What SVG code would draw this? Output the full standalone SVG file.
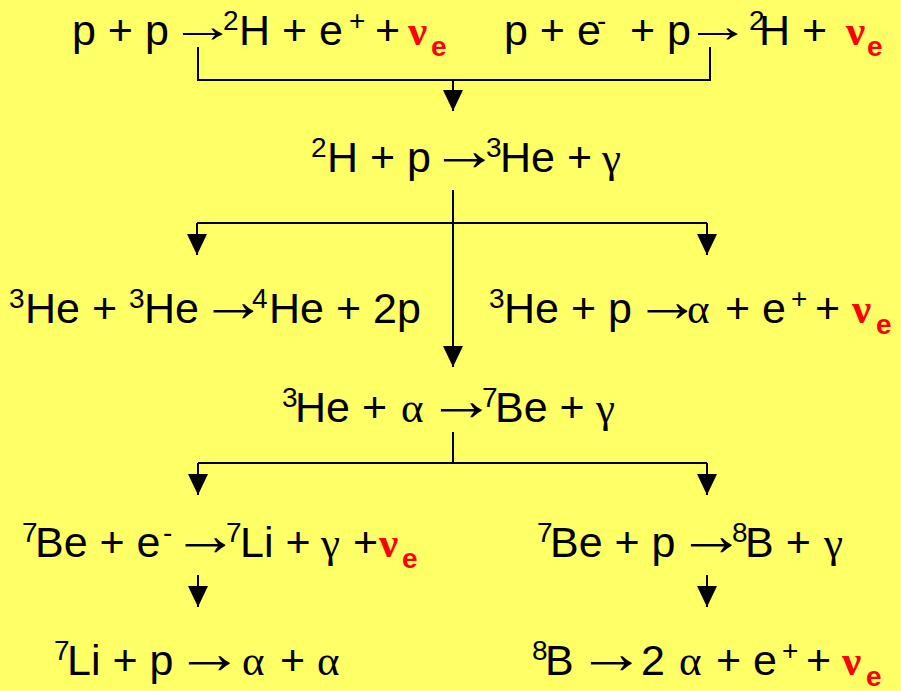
<svg xmlns="http://www.w3.org/2000/svg" width="901" height="691" viewBox="0 0 901 691">
<style>
.t{font-family:"Liberation Sans",Arial,sans-serif;font-size:43px;fill:#000}
.s{font-size:28px}
.g{font-family:"Liberation Serif","Times New Roman",serif}
.ar{font-family:"Liberation Sans",Arial,sans-serif;font-size:60px;fill:#000}
.ar1{font-family:"Liberation Sans",Arial,sans-serif;font-size:47px;fill:#000}
.n{font-family:"Liberation Serif","Times New Roman",serif;font-weight:bold;fill:#f00}
.ne{font-family:"Liberation Sans",Arial,sans-serif;font-size:28px;font-weight:bold;fill:#f00}
.c{fill:none;stroke:#000;stroke-width:2}
</style>
<defs>
<marker id="ah" viewBox="0 0 21 20" refX="21" refY="10" markerWidth="21" markerHeight="20" markerUnits="userSpaceOnUse" orient="auto">
<path d="M0,0 L21,10 L0,20 z" fill="#000"/>
</marker>
</defs>
<rect width="901" height="691" fill="#ffff66"/>
<g id="connectors">
<path class="c" d="M198,47 V80 H710 V47"/>
<path class="c" d="M453,80 V111" marker-end="url(#ah)"/>
<path class="c" d="M453,190 V367" marker-end="url(#ah)"/>
<path class="c" d="M197,223 H707"/>
<path class="c" d="M197,223 V255" marker-end="url(#ah)"/>
<path class="c" d="M707,223 V255" marker-end="url(#ah)"/>
<path class="c" d="M453,432 V463"/>
<path class="c" d="M198,463 H707"/>
<path class="c" d="M198,463 V495" marker-end="url(#ah)"/>
<path class="c" d="M707,463 V495" marker-end="url(#ah)"/>
<path class="c" d="M198,575 V607" marker-end="url(#ah)"/>
<path class="c" d="M707,575 V607" marker-end="url(#ah)"/>
</g>
<g id="pp">
<text class="t"><tspan x="72" y="45">p + p</tspan><tspan class="s" x="223" y="30">2</tspan><tspan x="239" y="45">H + e</tspan><tspan class="s" x="349" y="30">+</tspan><tspan x="375" y="45">+</tspan><tspan class="n" x="408" y="45">ν</tspan><tspan class="ne" x="431" y="56">e</tspan></text>
<text class="ar1" transform="translate(169,42) scale(1.42,1)">→</text>
</g>
<g id="pep">
<text class="t"><tspan x="504" y="45">p + e</tspan><tspan class="s" x="597" y="30">-</tspan><tspan x="630" y="45">+ p</tspan><tspan class="s" x="749" y="30">2</tspan><tspan x="759" y="45">H +</tspan><tspan class="n" x="846" y="45">ν</tspan><tspan class="ne" x="867" y="56">e</tspan></text>
<text class="ar1" transform="translate(684,42) scale(1.42,1)">→</text>
</g>
<g id="h2p">
<text class="t"><tspan class="s" x="311" y="157">2</tspan><tspan x="327" y="172">H + p</tspan><tspan class="s" x="486" y="157">3</tspan><tspan x="500" y="172">He +</tspan><tspan class="g" x="602" y="172">γ</tspan></text>
<text class="ar" transform="translate(430,170) scale(1.15,1)">→</text>
</g>
<g id="he3he3">
<text class="t"><tspan class="s" x="9" y="308">3</tspan><tspan x="25" y="323">He +</tspan><tspan class="s" x="129" y="308">3</tspan><tspan x="144" y="323">He</tspan><tspan class="s" x="252" y="308">4</tspan><tspan x="269" y="323">He + 2p</tspan></text>
<text class="ar" transform="translate(200,321) scale(1.12,1)">→</text>
</g>
<g id="he3p">
<text class="t"><tspan class="s" x="489" y="308">3</tspan><tspan x="504" y="323">He + p</tspan><tspan class="g" x="687" y="323">α</tspan><tspan x="725" y="323">+ e</tspan><tspan class="s" x="791" y="308">+</tspan><tspan x="815" y="323">+</tspan><tspan class="n" x="852" y="323">ν</tspan><tspan class="ne" x="876" y="334">e</tspan></text>
<text class="ar" transform="translate(634,321) scale(1.12,1)">→</text>
</g>
<g id="he3alpha">
<text class="t"><tspan class="s" x="282" y="407">3</tspan><tspan x="295" y="422">He +</tspan><tspan class="g" x="401" y="422">α</tspan><tspan class="s" x="482" y="407">7</tspan><tspan x="495" y="422">Be +</tspan><tspan class="g" x="596" y="422">γ</tspan></text>
<text class="ar" transform="translate(427,420) scale(1.15,1)">→</text>
</g>
<g id="be7e">
<text class="t"><tspan class="s" x="22" y="542">7</tspan><tspan x="35" y="557">Be + e</tspan><tspan class="s" x="163" y="542">-</tspan><tspan class="s" x="226" y="542">7</tspan><tspan x="240" y="557">Li +</tspan><tspan class="g" x="321" y="557">γ</tspan><tspan x="353" y="557">+</tspan><tspan class="n" x="379" y="557">ν</tspan><tspan class="ne" x="402" y="568">e</tspan></text>
<text class="ar" transform="translate(172,555) scale(1.12,1)">→</text>
</g>
<g id="be7p">
<text class="t"><tspan class="s" x="537" y="542">7</tspan><tspan x="550" y="557">Be + p</tspan><tspan class="s" x="732" y="542">8</tspan><tspan x="745" y="557">B +</tspan><tspan class="g" x="824" y="557">γ</tspan></text>
<text class="ar" transform="translate(677,555) scale(1.15,1)">→</text>
</g>
<g id="li7p">
<text class="t"><tspan class="s" x="54" y="660">7</tspan><tspan x="67" y="675">Li + p</tspan><tspan class="g" x="242" y="675">α</tspan><tspan x="280" y="675">+</tspan><tspan class="g" x="317" y="675">α</tspan></text>
<text class="ar" transform="translate(175,673) scale(1.15,1)">→</text>
</g>
<g id="b8">
<text class="t"><tspan class="s" x="532" y="660">8</tspan><tspan x="545" y="675">B</tspan><tspan x="641" y="675">2</tspan><tspan class="g" x="679" y="675">α</tspan><tspan x="716" y="675">+ e</tspan><tspan class="s" x="782" y="660">+</tspan><tspan x="806" y="675">+</tspan><tspan class="n" x="842" y="675">ν</tspan><tspan class="ne" x="866" y="686">e</tspan></text>
<text class="ar" transform="translate(577,673) scale(1.15,1)">→</text>
</g>
</svg>
